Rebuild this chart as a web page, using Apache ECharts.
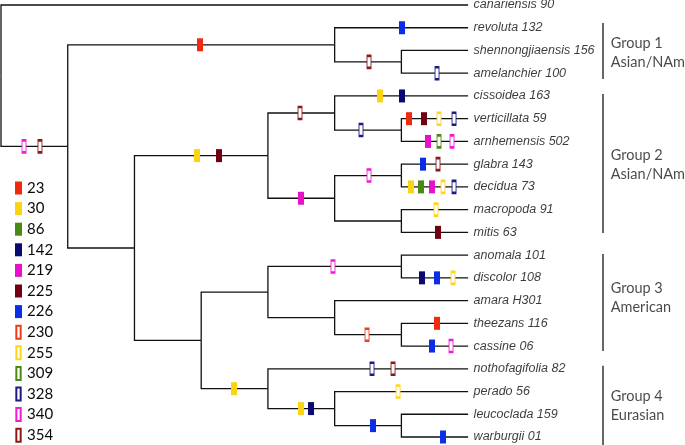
<!DOCTYPE html>
<html><head><meta charset="utf-8">
<script src="https://cdn.jsdelivr.net/npm/echarts@6/dist/echarts.min.js"></script>
<style>html,body{margin:0;padding:0;background:#fff}#c{width:685px;height:445px}</style>
</head><body><div id="c"></div>
<script>
// ---- data ----
const tips = ['canariensis 90','revoluta 132','shennongjiaensis 156','amelanchier 100','cissoidea 163','verticillata 59','arnhemensis 502','glabra 143','decidua 73','macropoda 91','mitis 63','anomala 101','discolor 108','amara H301','theezans 116','cassine 06','nothofagifolia 82','perado 56','leucoclada 159','warburgii 01'];
// internal nodes: [id, depth, children]
const nodes = [
 ['root',0,['canariensis 90','A']],
 ['A',1,['G1','B']],
 ['G1',5,['revoluta 132','G1b']],
 ['G1b',6,['shennongjiaensis 156','amelanchier 100']],
 ['B',2,['G2','C']],
 ['G2',4,['G2a','G2b']],
 ['G2a',5,['cissoidea 163','G2a1']],
 ['G2a1',6,['verticillata 59','arnhemensis 502']],
 ['G2b',5,['G2b1','G2b2']],
 ['G2b1',6,['glabra 143','decidua 73']],
 ['G2b2',6,['macropoda 91','mitis 63']],
 ['C',3,['G3','G4']],
 ['G3',4,['G3a','G3b']],
 ['G3a',6,['anomala 101','discolor 108']],
 ['G3b',5,['amara H301','G3b1']],
 ['G3b1',6,['theezans 116','cassine 06']],
 ['G4',4,['nothofagifolia 82','G4a']],
 ['G4a',5,['perado 56','G4a1']],
 ['G4a1',6,['leucoclada 159','warburgii 01']]
];
const tipDepth = 7;
const stateNames = ['23','30','86','142','219','225','226','230','255','309','328','340','354'];
// character-state changes: [branch (child node / tip), position along depth axis]
const m23  = [['G1',2.982],['verticillata 59',6.114],['theezans 116',6.534]];
const m30  = [['G2',2.937],['cissoidea 163',5.680],['decidua 73',6.144],['G4',3.492],['G4a',4.496]];
const m86  = [['decidua 73',6.294]];
const m142 = [['cissoidea 163',6.009],['discolor 108',6.309],['G4a',4.646]];
const m219 = [['arnhemensis 502',6.399],['G2b',4.496],['decidua 73',6.459]];
const m225 = [['G2',3.267],['verticillata 59',6.339],['mitis 63',6.549]];
const m226 = [['revoluta 132',6.009],['glabra 143',6.324],['discolor 108',6.534],['cassine 06',6.459],['G4a1',5.575],['warburgii 01',6.624]];
const m230 = [['G3b1',5.485]];
const m255 = [['verticillata 59',6.564],['decidua 73',6.624],['macropoda 91',6.519],['discolor 108',6.774],['perado 56',5.950]];
const m309 = [['arnhemensis 502',6.564]];
const m328 = [['amelanchier 100',6.534],['G2a1',5.395],['verticillata 59',6.789],['decidua 73',6.789],['nothofagifolia 82',5.560]];
const m340 = [['A',0.345],['arnhemensis 502',6.759],['G2b1',5.515],['G3a',4.975],['cassine 06',6.744]];
const m354 = [['A',0.584],['G1b',5.515],['G2a',4.481],['glabra 143',6.549],['nothofagifolia 82',5.875]];
const stateMarks = [m23,m30,m86,m142,m219,m225,m226,m230,m255,m309,m328,m340,m354];
const groupLabels = ['Group 1\nAsian/NAm','Group 2\nAsian/NAm','Group 3\nAmerican','Group 4\nEurasian'];
const groupSpans = [[0.79,3.25],[3.91,10.03],[10.95,15.22],[15.87,19.4]];
const groupLabelY = [2.09,7.04,12.86,17.63];

// ---- styles ----
const stateColors = ['#f02a10','#fad414','#4a8a10','#0a0a70','#e810c8','#720010','#0a2ee8','#f03a1c','#ffd51c','#4a8a10','#1c1c80','#f01cd4','#8a1818'];
const stateFilled = [true,true,true,true,true,true,true,false,false,false,false,false,false];
const bracketX = 9.01;

// ---- layout ----
const pos = {};
tips.forEach((t,i)=>{pos[t]=[tipDepth,i];});
const nodeMap = {};
nodes.forEach(n=>{nodeMap[n[0]]=n;});
function place(id){
  if(pos[id]) return pos[id];
  const n = nodeMap[id];
  const ys = n[2].map(c=>place(c)[1]);
  pos[id] = [n[1], (ys[0]+ys[ys.length-1])/2];
  return pos[id];
}
place('root');
const edges = [];
nodes.forEach(n=>{
  const p = pos[n[0]];
  n[2].forEach(c=>{
    const q = pos[c];
    edges.push({coords:[[p[0],p[1]],[p[0],q[1]],[q[0],q[1]]]});
  });
});

const markerSeries = stateNames.map((name,i)=>({
  name, type:'scatter', z:5, silent:true,
  symbol:'rect',
  symbolSize: stateFilled[i] ? [6,13] : [4,12],
  itemStyle: stateFilled[i] ? {color:stateColors[i],opacity:1} : {color:'#fff', borderColor:stateColors[i], borderWidth:1.5, opacity:1},
  data: stateMarks[i].map(([b,x])=>[x,pos[b][1]])
}));

const chart = echarts.init(document.getElementById('c'), null, {renderer:'canvas'});
chart.setOption({
  animation:false,
  backgroundColor:'#fff',
  grid:{left:1,right:0,top:5,bottom:8},
  xAxis:{type:'value',min:0,max:10.25,show:false},
  yAxis:{type:'value',min:0,max:19,inverse:true,show:false},
  legend:{
    orient:'vertical', left:15, top:180.5, height:300, padding:0,
    itemWidth:7, itemHeight:13, itemGap:5.6,
    selectedMode:false,
    textStyle:{fontFamily:'Lato',fontSize:15,color:'#0a0a0a'},
    data: stateNames.map((n,i)=>({name:n, icon: stateFilled[i] ? 'rect' : 'path://M0,0h4v12h-4z'}))
  },
  series:[
    {type:'lines', coordinateSystem:'cartesian2d', polyline:true, silent:true, clip:false, z:2,
     lineStyle:{color:'#111',width:1.3,opacity:1}, data:edges},
    {type:'lines', coordinateSystem:'cartesian2d', silent:true, clip:false, z:2,
     lineStyle:{color:'#666',width:2,opacity:1},
     data: groupSpans.map(s=>({coords:[[bracketX,s[0]],[bracketX,s[1]]]}))},
    ...markerSeries,
    {type:'scatter', silent:true, symbolSize:1, itemStyle:{color:'rgba(0,0,0,0)'},
     data: tips.map((t,i)=>({name:t,value:[tipDepth,i]})),
     label:{show:true,position:'right',distance:5,formatter:p=>p.name,
       fontFamily:'Liberation Sans',fontStyle:'italic',fontSize:12.5,color:'#0a0a0a'}},
    {type:'scatter', silent:true, symbolSize:1, itemStyle:{color:'rgba(0,0,0,0)'},
     data: groupLabels.map((g,i)=>({name:g,value:[bracketX,groupLabelY[i]]})),
     label:{show:true,position:'right',distance:8,formatter:p=>p.name,
       fontFamily:'Lato',fontSize:14.5,lineHeight:19,color:'#1a1a1a'}}
  ]
});
</script></body></html>
